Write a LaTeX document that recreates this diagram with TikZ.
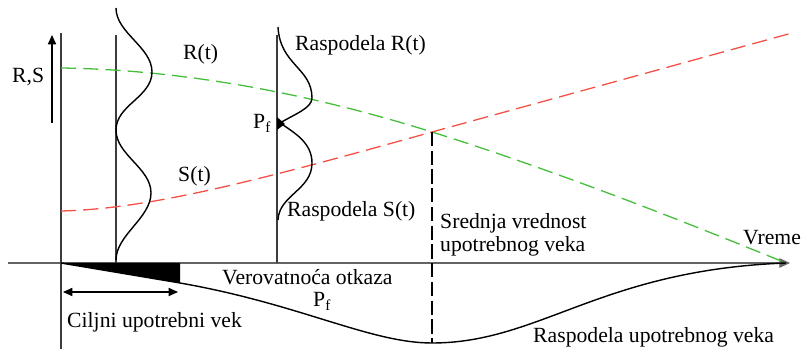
\documentclass[tikz,border=0pt]{standalone}
\usepackage{fontspec}
\setmainfont{Liberation Serif}
\usetikzlibrary{arrows.meta,positioning,calc}
\definecolor{strengthgreen}{RGB}{70,190,60}
\definecolor{stressred}{RGB}{245,80,70}
\definecolor{axisgray}{RGB}{100,100,100}

\begin{document}
\begin{tikzpicture}[x=0.03cm, y=-0.03cm,
    txt/.style={font=\rmfamily\fontsize{18.5}{21}\selectfont, inner sep=0pt, anchor=base west},
    axisline/.style={draw=axisgray, line width=0.9pt},
    vline/.style={draw=axisgray!60!black, line width=1.3pt},
    curve/.style={line width=1.2pt},
    trend/.style={line width=1.1pt, dash pattern=on 13pt off 6pt},
    tip/.style={-{Triangle[length=9pt,width=8pt]}},
]
    \useasboundingbox (0,0) rectangle (802,349);
    % axes
    \coordinate (tstart) at (8,263);
    \coordinate (tend) at (790,263);
    \coordinate (rsbottom) at (52,123);
    \coordinate (rstop) at (52,35);
    \draw[axisline, tip] (tstart) -- (tend);
    \draw[vline] (61,33) -- (61,349);
    \draw[line width=1pt, -{Triangle[length=8pt,width=7pt]}] (rsbottom) -- (rstop);
    % verticals of the two time cuts
    \draw[vline] (116,35) -- (116,263);
    \draw[vline] (277,35) -- (277,263);
    % trends of R and S
    \draw[trend, strengthgreen] (61,68) .. controls (200,70) and (330,100) .. (432,132)
        .. controls (560,172) and (700,228) .. (786,263);
    \draw[trend, stressred] (61,211) .. controls (150,209) and (260,180) .. (432,132) -- (792,33);
    % densities at first cut
    \draw[curve] (116,8) .. controls (116,33) and (152,47) .. (152,72)
        .. controls (152,97) and (116,105) .. (116,130)
        .. controls (116,155) and (151,168) .. (151,193)
        .. controls (151,218) and (116,235) .. (116,260);
    % densities at second cut
    \draw[curve] (278,27) .. controls (280,65) and (312,68) .. (312,98)
        .. controls (312,108) and (295,114) .. (280,123);
    \draw[curve] (280,123) .. controls (295,133) and (312,143) .. (312,163)
        .. controls (312,190) and (279,195) .. (278,220);
    \fill (277,117) -- (285,124) -- (277,130) -- cycle;
    % mean life
    \draw[curve, dash pattern=on 12pt off 4pt, line width=1pt] (432,132) -- (432,343);
    % life distribution
    \fill (61,263) -- (180,263) -- (180,283) -- cycle;
    \draw[curve] (61,263) -- (180,283) .. controls (300,304) and (370,343) .. (432,343)
        .. controls (540,343) and (600,270) .. (786,263);
    \coordinate (lifeleft) at (63,292);
    \coordinate (liferight) at (178,292);
    \draw[line width=1pt, {Triangle[length=8pt,width=7pt]}-{Triangle[length=8pt,width=7pt]}] (lifeleft) -- (liferight);
    % labels
    \node[txt] (rs) at (12,83) {R,S};
    \node[txt] (rt) at (183,60) {R(t)};
    \node[txt] (st) at (178,182) {S(t)};
    \node[txt] (rdist) at (295,51) {Raspodela R(t)};
    \node[txt] (sdist) at (287,217) {Raspodela S(t)};
    \node[txt] (pfcut) at (253,129) {P\textsubscript{f}};
    \node[txt] (mean) at (440,229) {Srednja vrednost};
    \node[txt] (mean2) at (440,252) {upotrebnog veka};
    \node[txt] (time) at (743,245) {Vreme};
    \node[txt] (pfail) at (222,285) {Verovatnoća otkaza};
    \node[txt] (pflife) at (313,307) {P\textsubscript{f}};
    \node[txt] (target) at (67,328) {Ciljni upotrebni vek};
    \node[txt] (lifedist) at (533,343) {Raspodela upotrebnog veka};
\end{tikzpicture}
\end{document}
